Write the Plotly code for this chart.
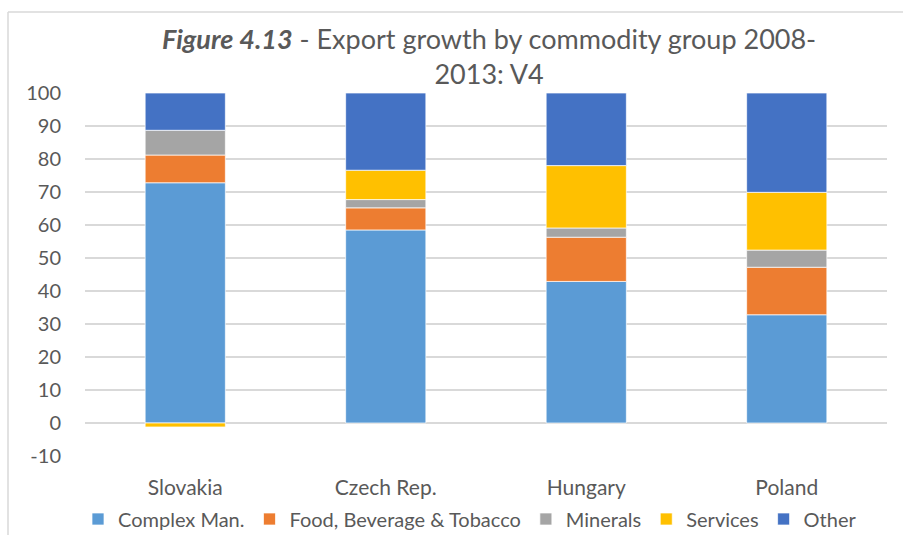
import plotly.graph_objects as go

countries = ["Slovakia", "Czech Rep.", "Hungary", "Poland"]
complex_man = [72.8, 58.5, 42.9, 32.8]
food_bev_tob = [8.4, 6.7, 13.4, 14.4]
minerals = [7.5, 2.5, 2.8, 5.2]
services = [-1.2, 8.9, 18.9, 17.5]
other = [11.3, 23.4, 22.0, 30.1]

series_names = ["Complex Man.", "Food, Beverage & Tobacco", "Minerals", "Services", "Other"]
series_vals = [complex_man, food_bev_tob, minerals, services, other]
series_colors = ["#5B9BD5", "#ED7D31", "#A5A5A5", "#FFC000", "#4472C4"]

y_tickvals = [-10, 0, 10, 20, 30, 40, 50, 60, 70, 80, 90, 100]
y_ticktext = ["-10", "0", "10", "20", "30", "40", "50", "60", "70", "80", "90", "100"]

FONT = "Lato"
GRAY = "#595959"

fig = go.Figure()
for name, vals, col in zip(series_names, series_vals, series_colors):
    fig.add_trace(go.Bar(
        x=countries, y=vals, name=name,
        marker=dict(color=col, line=dict(color="rgba(255,255,255,0.7)", width=1)),
    ))

W, H = 903, 535
L, R, T, B = 85, 16, 93, 79
pw, ph = W - L - R, H - T - B

def px_x(p):
    return (p - L) / pw

def px_y(p):
    return (H - B - p) / ph

fig.update_layout(
    width=W, height=H,
    margin=dict(l=L, r=R, t=T, b=B, autoexpand=False),
    barmode="relative",
    bargap=0.6,
    plot_bgcolor="white",
    paper_bgcolor="white",
    font=dict(family=FONT, color=GRAY, size=20),
    showlegend=True,
    legend=dict(
        orientation="h", x=px_x(470), xanchor="center",
        y=px_y(519), yanchor="middle",
        font=dict(size=20, color=GRAY), traceorder="normal",
        itemwidth=30, tracegroupgap=0,
    ),
    xaxis=dict(
        showgrid=False, showline=False, ticks="",
        tickfont=dict(size=21, color=GRAY), ticklabelstandoff=17,
    ),
    yaxis=dict(
        range=[-10, 100], tickvals=y_tickvals, ticktext=y_ticktext,
        showgrid=True, gridcolor="#D9D9D9", gridwidth=1.5,
        zeroline=False, showline=False, ticks="",
        tickfont=dict(size=20, color=GRAY), ticklabelstandoff=23,
    ),
    annotations=[dict(
        text="<b><i>Figure 4.13</i></b> - Export growth by commodity group 2008-<br>2013: V4",
        x=px_x(489), y=px_y(56), xref="paper", yref="paper",
        xanchor="center", yanchor="middle", showarrow=False,
        font=dict(size=27, color=GRAY, family=FONT),
    )],
    shapes=[
        dict(type="line", xref="paper", yref="paper",
             x0=px_x(8), x1=px_x(8), y0=px_y(12), y1=px_y(560),
             line=dict(color="#D9D9D9", width=1.5)),
        dict(type="line", xref="paper", yref="paper",
             x0=px_x(8), x1=px_x(920), y0=px_y(12), y1=px_y(12),
             line=dict(color="#D9D9D9", width=1.5)),
    ],
)

fig.write_html("out.html", config={"displayModeBar": False},
               post_script="document.body.style.margin='0';")
